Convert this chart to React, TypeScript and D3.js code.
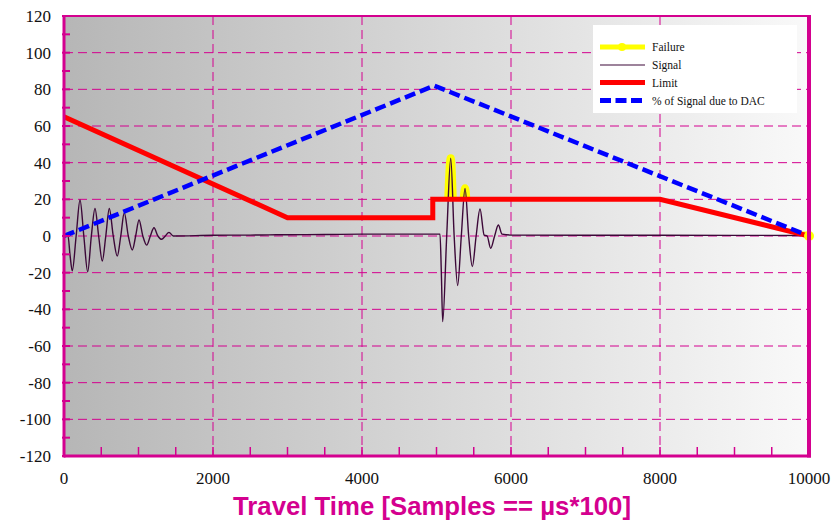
import React from 'react';
import * as d3 from 'd3';

const W = 831;
const H = 521;

const xTicks = [0, 2000, 4000, 6000, 8000, 10000];
const xMinorTicks = d3.range(0, 10001, 500);
const yLabelTicks = d3.range(-120, 121, 20);
const yMinorTicks = d3.range(-120, 121, 10);
const xGrid = [2000, 4000, 6000, 8000];
const yGrid = d3.range(-100, 101, 20);

const signalX = [
  0, 54, 80, 111, 163, 215, 266, 318, 367, 416, 465, 514, 561, 608, 661, 715, 762, 809, 863, 917,
  962, 1007, 1058, 1110, 1159, 1208, 1260, 1311, 1360, 1409, 1467, 2000, 2500, 3000, 3500, 4000,
  4500, 5047, 5065, 5083, 5137, 5191, 5237, 5284, 5333, 5383, 5432, 5481, 5532, 5584, 5640, 5680,
  5727, 5780, 5830, 5880, 6000, 8000, 10000,
];
const signalY = [
  0, 0, -10, -19, 0, 19.6, 0, -19.5, 0, 15, 0, -13.6, 0, 15, 0, -11, 0, 12.7, 0, -7.6,
  0, 8.7, 0, -5, 0, 4.5, 0, -1.8, 0, 2, 0, 0.4, 0.5, 0.7, 0.8, 1,
  1, 1, -20, -46.7, 0, 42.4, 0, -27, 0, 26, 0, -16.7, 0, 14.7, 0.5, 0,
  -6.7, 0, 6, 1, 0.5, 0.4, 0.3,
];

const limitX = [0, 3000, 4950, 4950, 8000, 10000];
const limitY = [65, 10, 10, 20, 20, 0];

const dacX = [0, 4970, 10000];
const dacY = [0, 82, 0];

const failureMarkX = [10000];
const failureMarkY = [0];

const legendLabels = ['Failure', 'Signal', 'Limit', '% of Signal due to DAC'];

const MAGENTA = '#d4008f';

export default function App() {
  const x = d3.scaleLinear().domain([0, 10000]).range([64, 809]);
  const y = d3.scaleLinear().domain([-120, 120]).range([456, 16]);

  const signalPts: [number, number][] = signalX.map((v, i) => [v, signalY[i]]);
  const limitPts: [number, number][] = limitX.map((v, i) => [v, limitY[i]]);
  const dacPts: [number, number][] = dacX.map((v, i) => [v, dacY[i]]);

  const signalLine = d3
    .line<[number, number]>()
    .x((d) => x(d[0]))
    .y((d) => y(d[1]))
    .curve(d3.curveMonotoneX);
  const straight = d3
    .line<[number, number]>()
    .x((d) => x(d[0]))
    .y((d) => y(d[1]));

  const sigPath = signalLine(signalPts) || '';
  const clipPts: [number, number][] = [...limitPts, [10000, 120], [0, 120]];
  const clipPath = straight(clipPts) + 'Z';

  const fontSerif = '"Liberation Serif", "Times New Roman", serif';

  return (
    <svg width={W} height={H} style={{ position: 'absolute', left: 0, top: 0 }} xmlns="http://www.w3.org/2000/svg">
      <defs>
        <linearGradient id="bg" x1="0" x2="1" y1="0" y2="0">
          <stop offset="0%" stopColor="#b6b6b6" />
          <stop offset="100%" stopColor="#f9f9f9" />
        </linearGradient>
        <clipPath id="aboveLimit">
          <path d={clipPath} />
        </clipPath>
        <clipPath id="plotClip">
          <rect x={x(0)} y={y(120)} width={x(10000) - x(0)} height={y(-120) - y(120)} />
        </clipPath>
      </defs>
      <rect x={0} y={0} width={W} height={H} fill="#ffffff" />
      <rect x={x(0)} y={y(120)} width={x(10000) - x(0)} height={y(-120) - y(120)} fill="url(#bg)" />

      {/* grid */}
      {yGrid.map((v) => (
        <line key={'yg' + v} x1={x(0)} x2={x(10000)} y1={y(v)} y2={y(v)} stroke={MAGENTA} strokeWidth={1} strokeDasharray="9,5" />
      ))}
      {xGrid.map((v) => (
        <line key={'xg' + v} x1={x(v)} x2={x(v)} y1={y(120)} y2={y(-120)} stroke={MAGENTA} strokeWidth={1} strokeDasharray="9,5" />
      ))}

      {/* legend box */}
      <rect x={593} y={25} width={204} height={88} fill="#ffffff" />

      <g clipPath="url(#plotClip)">
        {/* failure highlight */}
        <path d={sigPath} fill="none" stroke="#ffff00" strokeWidth={8} strokeLinejoin="round" strokeLinecap="round" clipPath="url(#aboveLimit)" />
        {/* signal */}
        <path d={sigPath} fill="none" stroke="#3c0838" strokeWidth={1.4} strokeLinejoin="round" />
        {/* limit */}
        <path d={straight(limitPts) || ''} fill="none" stroke="#ff0000" strokeWidth={5} strokeLinejoin="miter" />
        {/* DAC */}
        <path d={straight(dacPts) || ''} fill="none" stroke="#0000ff" strokeWidth={4.5} strokeDasharray="11,5" />
      </g>
      {failureMarkX.map((v, i) => (
        <circle key={'fm' + i} cx={x(v)} cy={y(failureMarkY[i])} r={5} fill="#ffff00" />
      ))}

      {/* frame */}
      <line x1={x(0)} x2={x(10000)} y1={y(120)} y2={y(120)} stroke={MAGENTA} strokeWidth={2} />
      <line x1={x(0)} x2={x(10000) + 2} y1={y(-120)} y2={y(-120)} stroke={MAGENTA} strokeWidth={3} />
      <line x1={x(0)} x2={x(0)} y1={y(120) - 1} y2={y(-120) + 1.5} stroke={MAGENTA} strokeWidth={3} />
      <line x1={x(10000)} x2={x(10000)} y1={y(120) - 1} y2={y(-120) + 1.5} stroke={MAGENTA} strokeWidth={4} />

      {/* y ticks */}
      {yMinorTicks.map((v) => (
        <line key={'yt' + v} x1={x(0) - 2} x2={x(0) + 6} y1={y(v)} y2={y(v)} stroke={MAGENTA} strokeWidth={2} />
      ))}
      {/* x ticks */}
      {xMinorTicks.map((v) => (
        <line key={'xt' + v} x1={x(v)} x2={x(v)} y1={y(-120)} y2={y(-120) - 9} stroke={MAGENTA} strokeWidth={1.5} />
      ))}

      {/* y labels */}
      {yLabelTicks.map((v) => (
        <text key={'yl' + v} x={51} y={y(v)} dy="0.35em" textAnchor="end" fontFamily={fontSerif} fontSize={17} fill="#111">
          {v}
        </text>
      ))}
      {/* x labels */}
      {xTicks.map((v) => (
        <text key={'xl' + v} x={x(v)} y={484} textAnchor="middle" fontFamily={fontSerif} fontSize={17} fill="#111">
          {v}
        </text>
      ))}

      {/* title */}
      <text x={432} y={515} textAnchor="middle" fontFamily='"Liberation Sans", Arial, sans-serif' fontWeight="bold" fontSize={25} textLength={398} lengthAdjust="spacingAndGlyphs" fill={MAGENTA}>
        Travel Time [Samples == µs*100]
      </text>

      {/* legend */}
      <g fontFamily={fontSerif} fontSize={11.5} fill="#111">
        <line x1={600} x2={645} y1={47} y2={47} stroke="#ffff00" strokeWidth={5} />
        <circle cx={622} cy={47} r={4} fill="#ffff00" />
        <line x1={600} x2={645} y1={65} y2={65} stroke="#3c0838" strokeWidth={1.2} />
        <line x1={600} x2={645} y1={82.5} y2={82.5} stroke="#ff0000" strokeWidth={5} />
        <line x1={600} x2={645} y1={100.5} y2={100.5} stroke="#0000ff" strokeWidth={5} strokeDasharray="11,4.5" />
        {legendLabels.map((t, i) => (
          <text key={t} x={652} y={[47, 65, 82.5, 100.5][i]} dy="0.35em">
            {t}
          </text>
        ))}
      </g>
    </svg>
  );
}
